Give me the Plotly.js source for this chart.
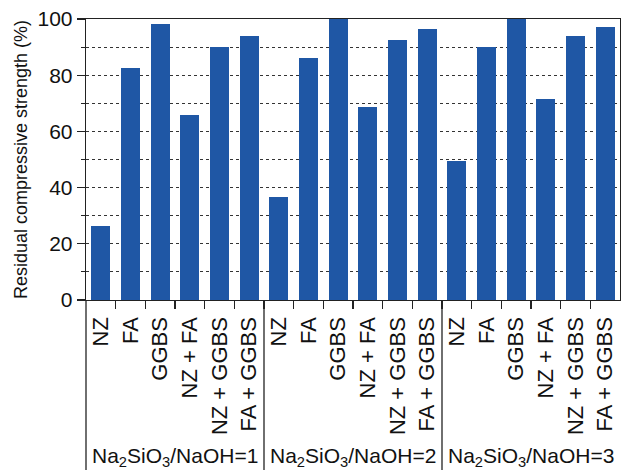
<!DOCTYPE html>
<html>
<head>
<meta charset="utf-8">
<script src="https://cdn.plot.ly/plotly-3.0.1.min.js"></script>
<style>html,body{margin:0;padding:0;background:#fff;}#chart{width:621px;height:470px;}</style>
</head>
<body>
<div id="chart"></div>
<script>
// ---- data ----
const binders = ["NZ", "FA", "GGBS", "NZ + FA", "NZ + GGBS", "FA + GGBS"];
const groupLabels = ["Na<sub>2</sub>SiO<sub>3</sub>/NaOH=1", "Na<sub>2</sub>SiO<sub>3</sub>/NaOH=2", "Na<sub>2</sub>SiO<sub>3</sub>/NaOH=3"];
const ratio1 = [26.2, 82.6, 98.2, 65.9, 90.1, 94.0];
const ratio2 = [36.5, 86.2, 100, 68.8, 92.5, 96.4];
const ratio3 = [49.6, 90.1, 100, 71.6, 94.0, 97.2];
const yTicks = [0, 20, 40, 60, 80, 100];

// ---- build ----
const groups = [ratio1, ratio2, ratio3];
const n = binders.length;
const xs = [], ys = [], labels = [];
groups.forEach((g, gi) => g.forEach((v, i) => { xs.push(gi * n + i); ys.push(v); labels.push(binders[i]); }));
const total = xs.length;
const boundaries = [];
for (let i = 0; i < total - 1; i++) boundaries.push(i + 0.5);

const font = "Liberation Sans, Arial, Helvetica, sans-serif";
const axisColor = "#222";
const plotH = 470 - 19 - 170;

const shapes = [];
shapes.push({type: "line", xref: "paper", yref: "paper", x0: 0, x1: 0, y0: 0, y1: -170 / plotH, line: {color: axisColor, width: 1.3}});
for (let gi = 1; gi < groups.length; gi++) {
  const xb = gi * n - 0.5;
  shapes.push({type: "line", xref: "x", yref: "paper", x0: xb, x1: xb, y0: 0, y1: -170 / plotH, line: {color: axisColor, width: 1.3}});
}

const annotations = groupLabels.map((t, gi) => ({
  text: t, xref: "x", yref: "paper", x: gi * n + (n - 1) / 2, y: -157 / plotH,
  xanchor: "center", yanchor: "middle", showarrow: false,
  font: {family: font, size: 21, color: "#111"}
}));

const trace = {
  type: "bar", x: xs, y: ys, width: 0.64,
  marker: {color: "#1f57a5", line: {width: 0}},
  hoverinfo: "skip"
};
const tickTrace = {type: "scatter", x: [0], y: [0], xaxis: "x2", mode: "markers", marker: {opacity: 0}, hoverinfo: "skip", showlegend: false};

const layout = {
  width: 621, height: 470,
  margin: {l: 86, r: 1, t: 19, b: 170},
  paper_bgcolor: "#fff", plot_bgcolor: "#fff",
  showlegend: false,
  font: {family: font, color: "#111"},
  bargap: 0,
  xaxis: {
    range: [-0.5, total - 0.5], tickmode: "array", tickvals: xs, ticktext: labels,
    tickangle: -90, ticks: "outside", ticklen: 7, tickcolor: "rgba(0,0,0,0)",
    tickfont: {family: font, size: 22, color: "#111"},
    showline: true, mirror: true, linecolor: axisColor, linewidth: 1.3,
    showgrid: false, zeroline: false, fixedrange: true
  },
  xaxis2: {
    overlaying: "x", anchor: "y", side: "bottom", range: [-0.5, total - 0.5],
    tickmode: "array", tickvals: boundaries, ticks: "outside", ticklen: 8,
    tickcolor: axisColor, tickwidth: 1.3, showticklabels: false,
    showline: false, showgrid: false, zeroline: false
  },
  yaxis: {
    range: [0, 100], tickmode: "array", tickvals: yTicks,
    ticks: "outside", ticklen: 8, tickcolor: axisColor, tickwidth: 1.3,
    tickfont: {family: font, size: 21, color: "#111"},
    showline: true, mirror: true, linecolor: axisColor, linewidth: 1.3,
    showgrid: true, gridcolor: "#333", gridwidth: 1.2, griddash: "dot",
    minor: {dtick: 10, tick0: 0, ticks: "outside", ticklen: 4, tickcolor: axisColor, tickwidth: 1.2, showgrid: true, gridcolor: "#333", gridwidth: 1.2, griddash: "dot"},
    zeroline: false,
    title: {text: "Residual compressive strength (%)", standoff: 5, font: {family: font, size: 18, color: "#111"}}
  },
  shapes: shapes,
  annotations: annotations
};

Plotly.newPlot("chart", [trace, tickTrace], layout, {displayModeBar: false, staticPlot: true});
</script>
</body>
</html>
